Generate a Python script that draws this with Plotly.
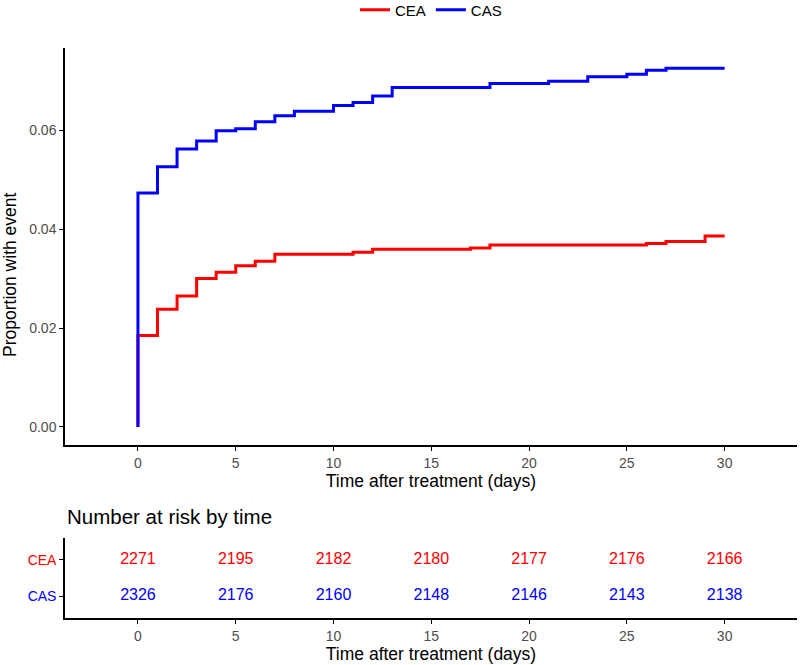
import plotly.graph_objects as go

# ---- data ----
cea_time = [0, 0, 1, 2, 3, 4, 5, 6, 7, 11, 12, 17, 18, 26, 27, 29, 30]
cea_prop = [0, 0.0185, 0.0238, 0.0265, 0.0300, 0.0313, 0.0326, 0.0335, 0.0349,
            0.0353, 0.0359, 0.0362, 0.0368, 0.0371, 0.0375, 0.0386, 0.0386]
cas_time = [0, 0, 1, 2, 3, 4, 5, 6, 7, 8, 10, 11, 12, 13, 18, 21, 23, 25, 26, 27, 30]
cas_prop = [0, 0.0473, 0.0526, 0.0562, 0.0578, 0.0599, 0.0603, 0.0617, 0.0629, 0.0638,
            0.0650, 0.0656, 0.0669, 0.0686, 0.0694, 0.0699, 0.0708, 0.0713, 0.0721,
            0.0725, 0.0725]

risk_times = [0, 5, 10, 15, 20, 25, 30]
risk_cea = [2271, 2195, 2182, 2180, 2177, 2176, 2166]
risk_cas = [2326, 2176, 2160, 2148, 2146, 2143, 2138]

x_ticks = [0, 5, 10, 15, 20, 25, 30]
y_ticks = [0.00, 0.02, 0.04, 0.06]

RED = "#FF0000"
BLUE = "#0000FF"
FONT = "Liberation Sans, Arial, sans-serif"

W, H = 800, 665
ML, MR = 65, 3

def py(px):
    return 1 - px / H

def pxx(px):
    return (px - ML) / (W - ML - MR)

fig = go.Figure()
fig.add_trace(go.Scatter(x=cea_time, y=cea_prop, mode="lines", line_shape="hv",
                         line=dict(color=RED, width=3), name="CEA",
                         xaxis="x", yaxis="y"))
fig.add_trace(go.Scatter(x=cas_time, y=cas_prop, mode="lines", line_shape="hv",
                         line=dict(color=BLUE, width=3), name="CAS",
                         xaxis="x", yaxis="y"))

fig.add_trace(go.Scatter(x=risk_times, y=[2] * len(risk_times), mode="text",
                         text=[str(v) for v in risk_cea],
                         textfont=dict(color=RED, size=16, family=FONT),
                         showlegend=False, xaxis="x2", yaxis="y2", hoverinfo="skip"))
fig.add_trace(go.Scatter(x=risk_times, y=[1] * len(risk_times), mode="text",
                         text=[str(v) for v in risk_cas],
                         textfont=dict(color=BLUE, size=16, family=FONT),
                         showlegend=False, xaxis="x2", yaxis="y2", hoverinfo="skip"))

xr = [-3.73, 33.7]
axis_common = dict(showline=True, linecolor="black", linewidth=1.5, ticks="outside",
                   ticklen=4, tickcolor="black", tickwidth=1, showgrid=False,
                   zeroline=False, automargin=False,
                   tickfont=dict(size=14, color="#4d4d4d", family=FONT))

fig.update_layout(
    width=W, height=H,
    margin=dict(l=ML, r=MR, t=0, b=0, autoexpand=False),
    paper_bgcolor="white", plot_bgcolor="white",
    font=dict(family=FONT, color="black"),
    showlegend=True,
    legend=dict(orientation="h", x=0.5, xanchor="center", y=py(10), yanchor="middle",
                font=dict(size=15), itemwidth=30, tracegroupgap=0),
    xaxis=dict(domain=[0, 1], anchor="y", range=xr, tickvals=x_ticks,
               title=dict(text="Time after treatment (days)", font=dict(size=17.5), standoff=4),
               **axis_common),
    yaxis=dict(domain=[py(445), py(48)], anchor="x", range=[-0.00364, 0.0766],
               tickvals=y_ticks, tickformat=".2f",
               **axis_common),
    xaxis2=dict(domain=[0, 1], anchor="y2", range=xr, tickvals=x_ticks,
                title=dict(text="Time after treatment (days)", font=dict(size=17.5), standoff=2),
                **axis_common),
    yaxis2=dict(domain=[py(618), py(538)], anchor="x2", range=[0.4, 2.6],
                tickvals=[2, 1],
                ticktext=['<span style="color:#FF0000">CEA</span>',
                          '<span style="color:#0000FF">CAS</span>'],
                **axis_common),
    annotations=[
        dict(text="Number at risk by time", xref="paper", yref="paper",
             x=0, y=py(516), xanchor="left", yanchor="middle",
             showarrow=False, font=dict(size=20.5, color="black", family=FONT)),
        dict(text="Proportion with event", xref="paper", yref="paper",
             x=pxx(10), y=py(275), xanchor="center", yanchor="middle", textangle=-90,
             showarrow=False, font=dict(size=17.5, color="black", family=FONT)),
    ],
)

fig.write_html("out.html", config={"displayModeBar": False},
               post_script="document.body.style.margin='0';document.body.style.overflow='hidden';")
